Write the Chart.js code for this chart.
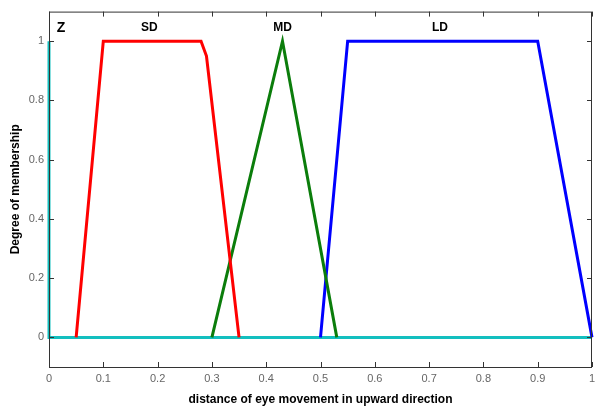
<!DOCTYPE html>
<html>
<head>
<meta charset="utf-8">
<script src="https://cdn.jsdelivr.net/npm/chart.js@4/dist/chart.umd.min.js"></script>
<style>
  html, body { margin: 0; padding: 0; background: #fff; }
  #wrap { width: 595px; height: 411px; }
</style>
</head>
<body>
<div id="wrap"><canvas id="mfChart" width="595" height="411"></canvas></div>
<script>
// membership functions (x = distance, y = degree)
var zX  = [0, 0, 1];
var zY  = [1, 0, 0];
var sdX = [0.05, 0.1, 0.28, 0.29, 0.35];
var sdY = [0, 1, 1, 0.95, 0];
var mdX = [0.3, 0.43, 0.53];
var mdY = [0, 1, 0];
var ldX = [0.5, 0.55, 0.9, 1];
var ldY = [0, 1, 1, 0];

var mfNames  = ['Z', 'SD', 'MD', 'LD'];
var mfLabelX = [0.022, 0.185, 0.43, 0.72];
var mfLabelY = 1.045;

var xTicks = [0, 0.1, 0.2, 0.3, 0.4, 0.5, 0.6, 0.7, 0.8, 0.9, 1];
var yTicks = [0, 0.2, 0.4, 0.6, 0.8, 1];

function pts(xs, ys) { return xs.map((x, i) => ({ x: x, y: ys[i] })); }

function mkSet(label, xs, ys, color) {
  return { label: label, data: pts(xs, ys), borderColor: color, backgroundColor: color,
    showLine: true, borderWidth: 3, pointRadius: 0, tension: 0, borderJoinStyle: 'miter' };
}

// box + inward ticks + MF names
var boxPlugin = {
  id: 'box',
  afterDatasetsDraw(chart) {
    var ctx = chart.ctx, a = chart.chartArea;
    var xs = chart.scales.x, ys = chart.scales.y;
    ctx.save();
    ctx.strokeStyle = '#333';
    ctx.lineWidth = 1;
    ctx.strokeRect(a.left + 0.5, a.top + 0.5, a.right - a.left - 1, a.bottom - a.top);
    ctx.beginPath();
    xTicks.forEach(v => {
      var px = Math.round(xs.getPixelForValue(v)) + 0.5;
      ctx.moveTo(px, a.bottom); ctx.lineTo(px, a.bottom - 5);
      ctx.moveTo(px, a.top); ctx.lineTo(px, a.top + 5);
    });
    yTicks.forEach(v => {
      var py = Math.round(ys.getPixelForValue(v)) + 0.5;
      ctx.moveTo(a.left, py); ctx.lineTo(a.left + 5, py);
      ctx.moveTo(a.right, py); ctx.lineTo(a.right - 5, py);
    });
    ctx.stroke();
    ctx.fillStyle = '#000';
    ctx.textAlign = 'center';
    ctx.textBaseline = 'middle';
    mfNames.forEach((n, i) => {
      ctx.font = (n === 'Z' ? 'bold 14px' : 'bold 12px') + ' "Liberation Sans", Arial, sans-serif';
      ctx.fillText(n, xs.getPixelForValue(mfLabelX[i]), ys.getPixelForValue(mfLabelY));
    });
    ctx.restore();
  }
};

Chart.defaults.font.family = '"Liberation Sans", Arial, sans-serif';
Chart.defaults.animation = false;

new Chart(document.getElementById('mfChart'), {
  type: 'scatter',
  data: {
    datasets: [
      mkSet('SD', sdX, sdY, '#ff0000'),
      mkSet('MD', mdX, mdY, '#0b7d0b'),
      mkSet('LD', ldX, ldY, '#0000ff'),
      mkSet('Z', zX, zY, '#13bfbf')
    ]
  },
  options: {
    responsive: false,
    clip: false,
    layout: { padding: { top: 9, right: 3, left: 0, bottom: 0 } },
    plugins: { legend: { display: false }, tooltip: { enabled: false } },
    scales: {
      x: {
        type: 'linear', min: 0, max: 1,
        afterBuildTicks: s => { s.ticks = xTicks.map(v => ({ value: v })); },
        afterFit: s => { s.height = 44; s.paddingRight = 0; s.paddingLeft = 0; },
        grid: { display: false, drawTicks: false, tickLength: 0 },
        border: { display: false },
        ticks: { color: '#666', font: { size: 11 }, padding: 5, maxRotation: 0,
          callback: v => String(v) },
        title: { display: true, text: 'distance of eye movement in upward direction',
          color: '#000', font: { size: 12, weight: 'bold' }, padding: { top: 6, bottom: 4 } }
      },
      y: {
        type: 'linear', min: -0.1, max: 1.1,
        afterBuildTicks: s => { s.ticks = yTicks.map(v => ({ value: v })); },
        afterFit: s => { s.width = 49; },
        grid: { display: false, drawTicks: false, tickLength: 0 },
        border: { display: false },
        ticks: { color: '#666', font: { size: 11 }, padding: 5,
          callback: v => String(v) },
        title: { display: true, text: 'Degree of membership',
          color: '#000', font: { size: 12, weight: 'bold' }, padding: { top: 8, bottom: 0 } }
      }
    }
  },
  plugins: [boxPlugin]
});
</script>
</body>
</html>
